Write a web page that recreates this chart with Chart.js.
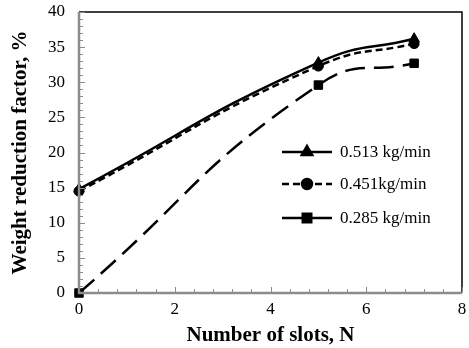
<!DOCTYPE html>
<html>
<head>
<meta charset="utf-8">
<script src="https://cdn.jsdelivr.net/npm/chart.js@4"></script>
<style>
  html, body { margin: 0; padding: 0; background: #fff; }
  #wrap { width: 469px; height: 348px; }
</style>
</head>
<body>
<div id="wrap"><canvas id="myChart" width="469" height="348"></canvas></div>
<script>
// weight reduction factor (%) against number of slots for three flow rates
var slots = [0, 5, 7];
var rate513 = [14.8, 32.8, 36.2];
var rate451 = [14.5, 32.3, 35.5];
var rate285 = [0, 29.6, 32.7];
var seriesNames = ['0.513 kg/min', '0.451kg/min', '0.285 kg/min'];
var xTicks = [0, 2, 4, 6, 8];
var yTicks = [0, 5, 10, 15, 20, 25, 30, 35, 40];

var serif = "'Liberation Serif', 'Times New Roman', serif";

function toPoints(arr) {
    return slots.map(function (x, i) { return { x: x, y: arr[i] }; });
}

var styles = [
    { dash: [], marker: 'triangle', radius: 6 },
    { dash: [7, 4], marker: 'circle', radius: 5 },
    { dash: [20, 9], marker: 'rect', radius: 6 }
];

/**
 * frame, inward tick marks and the legend box inside the plot
 */
var framePlugin = {
    id: 'frame',
    afterDraw: function (chart) {
        var c = chart.ctx, a = chart.chartArea;
        var xs = chart.scales.x, ys = chart.scales.y;
        c.save();
        // right and top edges in black
        c.strokeStyle = '#000';
        c.lineWidth = 1.5;
        c.beginPath();
        c.moveTo(a.left, a.top);
        c.lineTo(a.right, a.top);
        c.lineTo(a.right, a.bottom);
        c.stroke();
        // left and bottom axes in grey
        c.strokeStyle = '#8c8c8c';
        c.lineWidth = 2.5;
        c.beginPath();
        c.moveTo(a.left, a.top);
        c.lineTo(a.left, a.bottom);
        c.lineTo(a.right, a.bottom);
        c.stroke();
        // minor ticks pointing inwards
        c.lineWidth = 1;
        c.beginPath();
        for (var v = 0; v <= 8.001; v += 0.4) {
            var px = Math.round(xs.getPixelForValue(v)) + 0.5;
            var len = (Math.abs(v / 2 - Math.round(v / 2)) < 0.01) ? 6 : 4;
            c.moveTo(px, a.bottom);
            c.lineTo(px, a.bottom - len);
        }
        for (var w = 0; w <= 40; w += 1) {
            var py = Math.round(ys.getPixelForValue(w)) + 0.5;
            var l2 = (w % 5 === 0) ? 6 : 4;
            c.moveTo(a.left, py);
            c.lineTo(a.left + l2, py);
        }
        c.stroke();

        // legend
        var lx0 = 282, lx1 = 332, tx = 340;
        var rows = [152, 184, 218];
        chart.data.datasets.forEach(function (ds, i) {
            var st = styles[i];
            var y = rows[i];
            c.strokeStyle = '#000';
            c.lineWidth = 2.5;
            c.setLineDash(i === 2 ? [] : st.dash);
            c.beginPath();
            c.moveTo(lx0, y);
            c.lineTo(lx1, y);
            c.stroke();
            c.setLineDash([]);
            Chart.helpers.drawPoint(c, {
                pointStyle: st.marker,
                radius: st.radius,
                borderWidth: 1,
                rotation: 0
            }, (lx0 + lx1) / 2, y);
            c.fillStyle = '#000';
            c.font = '17px ' + serif;
            c.textAlign = 'left';
            c.textBaseline = 'middle';
            c.fillText(ds.label, tx, y + 1);
        });
        c.restore();
    }
};

var datasets = [rate513, rate451, rate285].map(function (arr, i) {
    var st = styles[i];
    return {
        label: seriesNames[i],
        data: toPoints(arr),
        borderColor: '#000',
        backgroundColor: '#000',
        borderWidth: 2.5,
        borderDash: st.dash,
        pointStyle: st.marker,
        pointRadius: st.radius,
        pointBorderWidth: 1,
        pointBackgroundColor: '#000',
        pointBorderColor: '#000',
        tension: 0.5,
        clip: false
    };
});

var gr_config = {
    type: 'line',
    data: { datasets: datasets },
    options: {
        responsive: false,
        animation: false,
        layout: { padding: { top: 12, right: 6, left: 0, bottom: 0 } },
        plugins: {
            legend: { display: false },
            tooltip: { enabled: false }
        },
        scales: {
            x: {
                type: 'linear',
                min: 0,
                max: 8,
                afterFit: function (s) {
                    s.height = 55;
                    s.paddingLeft = 0;
                    s.paddingRight = 0;
                },
                afterBuildTicks: function (s) { s.ticks = xTicks.map(function (v) { return { value: v }; }); },
                grid: { display: false, drawTicks: false },
                border: { display: false },
                ticks: {
                    color: '#000',
                    padding: 6,
                    font: { family: serif, size: 17 }
                },
                title: {
                    display: true,
                    text: 'Number of slots, N',
                    color: '#000',
                    padding: { top: 6, bottom: 0 },
                    font: { family: serif, size: 21, weight: 'bold' }
                }
            },
            y: {
                type: 'linear',
                min: 0,
                max: 40,
                afterFit: function (s) {
                    s.width = 79;
                    s.paddingTop = 0;
                    s.paddingBottom = 0;
                },
                afterBuildTicks: function (s) { s.ticks = yTicks.map(function (v) { return { value: v }; }); },
                grid: { display: false, drawTicks: false },
                border: { display: false },
                ticks: {
                    color: '#000',
                    padding: 14,
                    font: { family: serif, size: 17 }
                },
                title: {
                    display: true,
                    text: 'Weight reduction factor, %',
                    color: '#000',
                    padding: { top: 8, bottom: 0 },
                    font: { family: serif, size: 21, weight: 'bold' }
                }
            }
        }
    },
    plugins: [framePlugin]
};

var ctx = document.getElementById('myChart');
var myChart = new Chart(ctx, gr_config);
</script>
</body>
</html>
